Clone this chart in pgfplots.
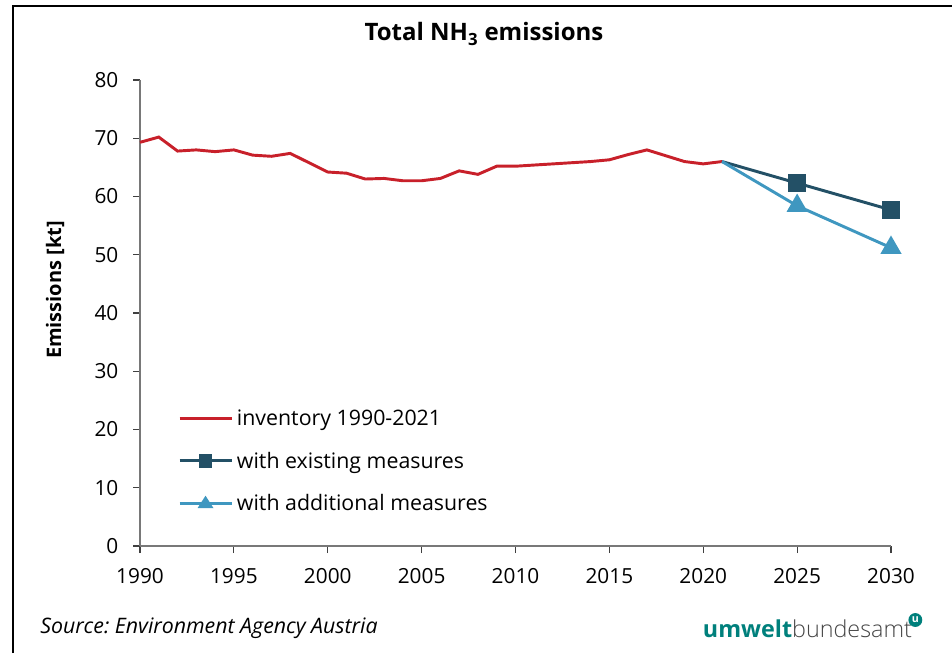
\documentclass[border=0pt]{standalone}
\usepackage{pgfplots}
\pgfplotsset{compat=1.18}
\usepackage{fontspec}
\setmainfont{Open Sans}
\frenchspacing

\definecolor{invred}{RGB}{200,32,42}
\definecolor{wemblue}{RGB}{35,80,102}
\definecolor{wamblue}{RGB}{63,151,192}
\definecolor{ubateal}{RGB}{0,128,124}
\definecolor{ubagrey}{RGB}{70,70,70}
\definecolor{axisgrey}{RGB}{120,120,120}

\begin{document}
\begin{tikzpicture}
\path[use as bounding box] (0pt,0pt) rectangle (714pt,489.75pt);
% frame along the top and left edge
\draw[line width=1.6pt] (9.75pt,0pt) -- (9.75pt,485.25pt) -- (714pt,485.25pt);

\begin{axis}[
  at={(105pt,80.25pt)}, anchor=south west,
  scale only axis, width=563.25pt, height=349.5pt,
  xmin=1990, xmax=2030, ymin=0, ymax=80,
  xtick={1990,1995,...,2030}, ytick={0,10,...,80},
  axis lines*=left,
  axis line style={draw=axisgrey, line width=0.9pt},
  tick style={draw=black!75, line width=0.8pt},
  tick align=outside, major tick length=5.25pt,
  /pgf/number format/assume math mode=true,
  /pgf/number format/1000 sep={},
  tick label style={font=\fontsize{15.6pt}{18pt}\selectfont},
  xticklabel style={yshift=-8pt},
  yticklabel style={xshift=-7.5pt},
  clip=false,
  legend style={draw=none, fill=none, at={(0.045,0.305)}, anchor=north west,
    font=\fontsize{16pt}{19pt}\selectfont, row sep=14.5pt,
    nodes={inner xsep=3pt}},
  legend cell align=left,
  legend image code/.code={\draw[#1] (0pt,0pt) -- (39pt,0pt);},
]
\addplot[invred, line width=2.2pt, no markers] coordinates {
 (1990,69.3) (1991,70.2) (1992,67.8) (1993,68.0) (1994,67.7) (1995,68.0)
 (1996,67.1) (1997,66.9) (1998,67.4) (1999,65.8) (2000,64.2) (2001,64.0)
 (2002,63.0) (2003,63.1) (2004,62.7) (2005,62.7) (2006,63.1) (2007,64.4)
 (2008,63.8) (2009,65.2) (2010,65.2) (2011,65.4) (2012,65.6) (2013,65.8)
 (2014,66.0) (2015,66.3) (2016,67.2) (2017,68.0) (2018,67.0) (2019,66.0)
 (2020,65.6) (2021,66.0)};
\addlegendentry{inventory 1990-2021}

\addplot[wemblue, line width=2.2pt, mark=square*, mark size=5.6pt,
  mark indices={2,3}, mark options={solid},
  legend image code/.code={\draw[wemblue, line width=2.2pt] (0pt,0pt) -- (39pt,0pt);
    \fill[wemblue] (15.75pt,-3.9pt) rectangle (23.25pt,3.9pt);}] coordinates {
 (2021,66.0) (2025,62.3) (2030,57.7)};
\addlegendentry{with existing measures}

\addplot[wamblue, line width=2.2pt, mark=triangle*, mark size=7pt,
  mark indices={2,3}, mark options={solid},
  legend image code/.code={\draw[wamblue, line width=2.2pt] (0pt,0pt) -- (39pt,0pt);
    \fill[wamblue] (19.5pt,4pt) -- (15.5pt,-2.2pt) -- (23.5pt,-2.2pt) -- cycle;}] coordinates {
 (2021,66.0) (2025,58.4) (2030,51.2)};
\addlegendentry{with additional measures}
\end{axis}

% titles and captions
\node[font=\fontsize{18pt}{21pt}\selectfont\bfseries] at (363pt,464.25pt) {Total NH\textsubscript{3} emissions};
\node[font=\fontsize{15pt}{18pt}\selectfont\bfseries, rotate=90] at (41.25pt,272.25pt) {Emissions [kt]};
\node[font=\fontsize{16pt}{19pt}\selectfont\itshape, anchor=base west, inner sep=0pt] at (30pt,15pt) {Source: Environment Agency Austria};

% agency wordmark
\node[anchor=base west, inner sep=0pt, font=\fontsize{17.5pt}{20pt}\selectfont] at (527pt,11.5pt)
  {\textcolor{ubateal}{\bfseries umwelt}\textcolor{ubagrey}{\fontspec{Open Sans Light}bundesamt}};
\fill[ubateal] (686.5pt,24.75pt) circle (5.2pt);
\node[text=white, font=\fontsize{8pt}{9pt}\selectfont\bfseries, inner sep=0pt] at (686.5pt,25pt) {u};
\end{tikzpicture}
\end{document}
